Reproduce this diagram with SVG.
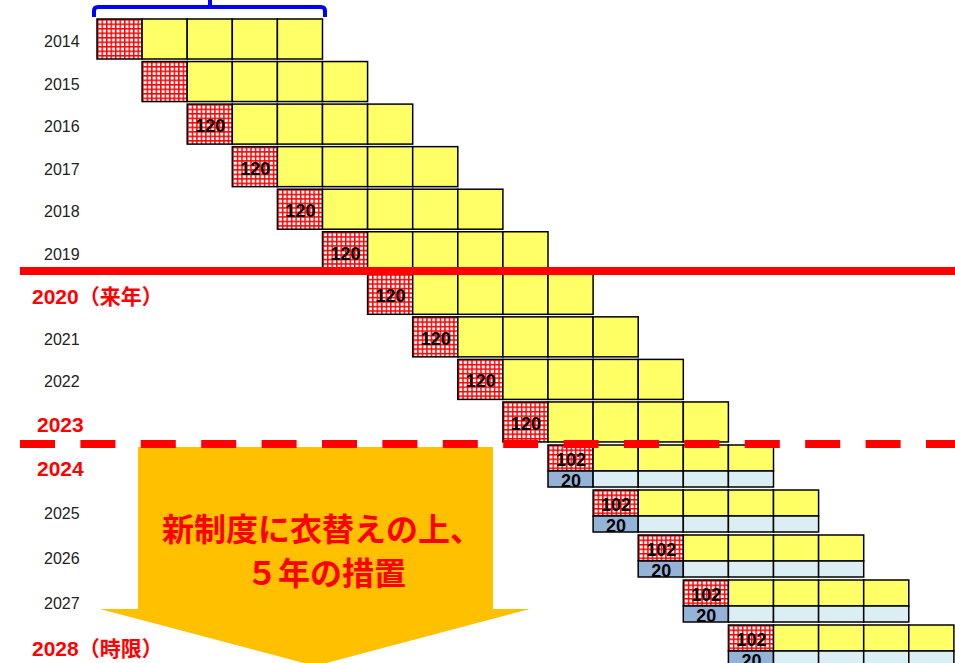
<svg xmlns="http://www.w3.org/2000/svg" xmlns:xlink="http://www.w3.org/1999/xlink" width="955" height="663" viewBox="0 0 955 663">
<style>
.c{stroke:#000;stroke-width:1.5}
.h{fill:url(#hatch)}
.y{fill:#ffff66}
.lb{fill:#daeef3}
.db{fill:#95b3d7}
.yr{font-family:"Liberation Sans","Noto Sans CJK JP",sans-serif;font-size:16px;fill:#222}
.rl{font-family:"Liberation Sans","Noto Sans CJK JP",sans-serif;font-size:21px;font-weight:bold;fill:#ff0000}
.n{font-family:"Liberation Sans",sans-serif;font-size:18px;font-weight:bold;fill:#000;text-anchor:middle}
.at{font-family:"Noto Sans CJK JP",sans-serif;font-size:32px;font-weight:bold;fill:#ff0000;text-anchor:middle}
</style>
<defs>
<pattern id="hatch" width="4.5" height="4.5" patternUnits="userSpaceOnUse">
<rect width="4.5" height="4.5" fill="#fff"/>
<rect width="1.5" height="4.5" fill="#ff0000"/>
<rect width="4.5" height="1.5" fill="#ff0000"/>
</pattern>
<g id="old">
<rect class="c h" x="0" y="0" width="45.1" height="40"/>
<rect class="c y" x="45.1" y="0" width="45.1" height="40"/>
<rect class="c y" x="90.2" y="0" width="45.1" height="40"/>
<rect class="c y" x="135.3" y="0" width="45.1" height="40"/>
<rect class="c y" x="180.4" y="0" width="45.1" height="40"/>
</g>
<g id="new">
<rect class="c h" x="0" y="0" width="45.1" height="26"/>
<rect class="c y" x="45.1" y="0" width="45.1" height="26"/>
<rect class="c y" x="90.2" y="0" width="45.1" height="26"/>
<rect class="c y" x="135.3" y="0" width="45.1" height="26"/>
<rect class="c y" x="180.4" y="0" width="45.1" height="26"/>
<rect class="c db" x="0" y="26" width="45.1" height="16"/>
<rect class="c lb" x="45.1" y="26" width="45.1" height="16"/>
<rect class="c lb" x="90.2" y="26" width="45.1" height="16"/>
<rect class="c lb" x="135.3" y="26" width="45.1" height="16"/>
<rect class="c lb" x="180.4" y="26" width="45.1" height="16"/>
</g>
</defs>
<rect width="955" height="663" fill="#fff"/>

<g id="bracket" fill="none" stroke="#0000ff" stroke-width="4">
<path d="M94,17 V11 Q94,7 98,7 H321 Q325,7 325,11 V17"/>
<path d="M210,7 V0"/>
</g>

<g id="labels">
<text class="yr" x="44" y="47">2014</text>
<text class="yr" x="44" y="89.5">2015</text>
<text class="yr" x="44" y="132">2016</text>
<text class="yr" x="44" y="174.5">2017</text>
<text class="yr" x="44" y="217">2018</text>
<text class="yr" x="44" y="259.5">2019</text>
<text class="rl" x="32" y="304">2020（来年）</text>
<text class="yr" x="44" y="344.5">2021</text>
<text class="yr" x="44" y="387">2022</text>
<text class="rl" x="37" y="432">2023</text>
<text class="rl" x="37" y="476">2024</text>
<text class="yr" x="44" y="519">2025</text>
<text class="yr" x="44" y="564">2026</text>
<text class="yr" x="44" y="609">2027</text>
<text class="rl" x="32" y="656">2028（時限）</text>
</g>

<g id="row2014" transform="translate(97,19)"><use xlink:href="#old"/></g>
<g id="row2015" transform="translate(142.1,61.55)"><use xlink:href="#old"/></g>
<g id="row2016" transform="translate(187.2,104.1)"><use xlink:href="#old"/><text class="n" x="23" y="28">120</text></g>
<g id="row2017" transform="translate(232.3,146.65)"><use xlink:href="#old"/><text class="n" x="23" y="28">120</text></g>
<g id="row2018" transform="translate(277.4,189.2)"><use xlink:href="#old"/><text class="n" x="23" y="28">120</text></g>
<g id="row2019" transform="translate(322.5,231.75)"><use xlink:href="#old"/><text class="n" x="23" y="28">120</text></g>
<g id="row2020" transform="translate(367.6,274.3)"><use xlink:href="#old"/><text class="n" x="23" y="28">120</text></g>
<g id="row2021" transform="translate(412.7,316.85)"><use xlink:href="#old"/><text class="n" x="23" y="28">120</text></g>
<g id="row2022" transform="translate(457.8,359.4)"><use xlink:href="#old"/><text class="n" x="23" y="28">120</text></g>
<g id="row2023" transform="translate(502.9,401.95)"><use xlink:href="#old"/><text class="n" x="23" y="28">120</text></g>
<g id="row2024" transform="translate(548,445)"><use xlink:href="#new"/><text class="n" x="23" y="21">102</text><text class="n" x="23" y="41.5">20</text></g>
<g id="row2025" transform="translate(593.1,490)"><use xlink:href="#new"/><text class="n" x="23" y="21">102</text><text class="n" x="23" y="41.5">20</text></g>
<g id="row2026" transform="translate(638.2,535)"><use xlink:href="#new"/><text class="n" x="23" y="21">102</text><text class="n" x="23" y="41.5">20</text></g>
<g id="row2027" transform="translate(683.3,580)"><use xlink:href="#new"/><text class="n" x="23" y="21">102</text><text class="n" x="23" y="41.5">20</text></g>
<g id="row2028" transform="translate(728.4,625)"><use xlink:href="#new"/><text class="n" x="23" y="21">102</text><text class="n" x="23" y="41.5">20</text></g>

<g id="arrow">
<path d="M138,447 H493 V609 H530 L315,666 L100,609 H138 Z" fill="#ffc000"/>
<text class="at" x="322" y="541">新制度に衣替えの上、</text>
<text class="at" x="326" y="585">５年の措置</text>
</g>

<g id="connectors">
<rect x="20" y="267" width="935" height="8" fill="#ff0000"/>
<line x1="20" y1="444" x2="955" y2="444" stroke="#ff0000" stroke-width="8" stroke-dasharray="35 25.4"/>
</g>
</svg>
